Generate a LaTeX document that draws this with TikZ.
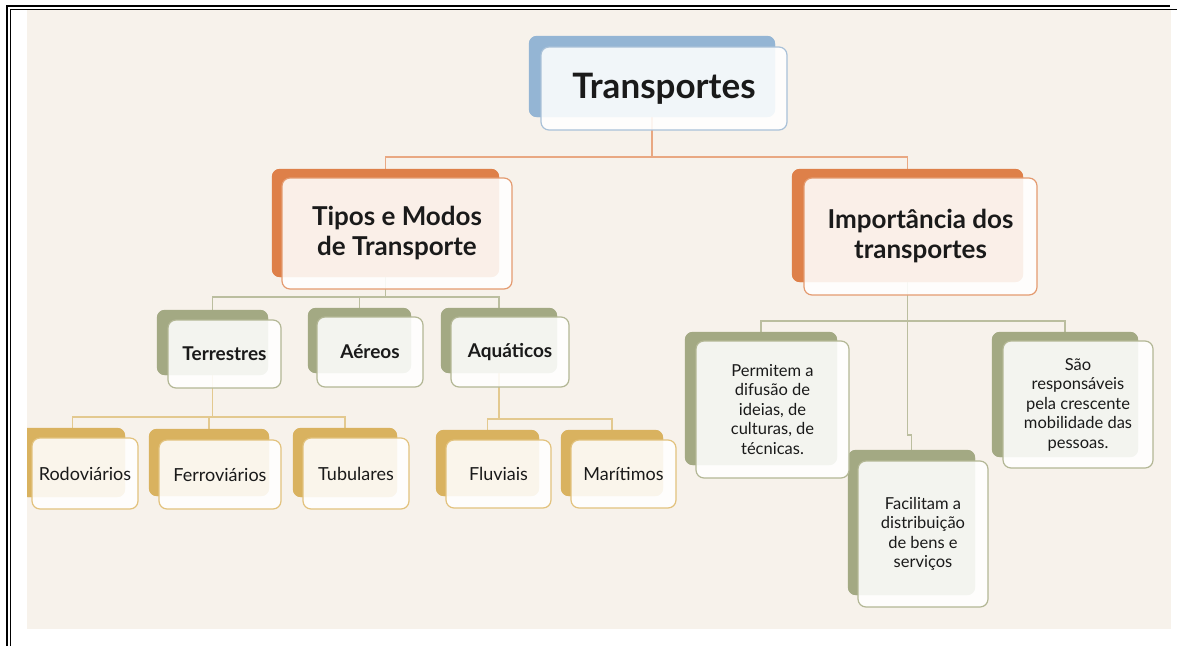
\documentclass[tikz,border=0pt]{standalone}
\usepackage{fontspec}
\setmainfont{Lato}
\definecolor{bgc}{HTML}{F7F2EB}
\definecolor{cB}{HTML}{94B5D4}
\definecolor{cBb}{HTML}{A9C1D8}
\definecolor{cO}{HTML}{DE8049}
\definecolor{cOb}{HTML}{E49B70}
\definecolor{cOl}{HTML}{E9A882}
\definecolor{cV}{HTML}{A3A983}
\definecolor{cVb}{HTML}{B3B795}
\definecolor{cVl}{HTML}{BBBE9F}
\definecolor{cG}{HTML}{D9B25F}
\definecolor{cGb}{HTML}{E2C27D}
\definecolor{cGl}{HTML}{E3C98F}
\definecolor{txt}{HTML}{1A1A1A}
\tikzset{
  backbox/.style={rounded corners=8pt, fill=#1, draw=none, inner sep=0pt},
  frontbox/.style={rounded corners=8pt, fill=white, fill opacity=0.88, text opacity=1,
     draw=#1, line width=1.2pt, inner sep=0pt, align=center, text=txt},
  conn/.style={draw=#1, line width=1.5pt},
  fbig/.style={font=\fontsize{26}{30}\selectfont\bfseries},
  fmid/.style={font=\fontsize{19}{22}\selectfont\bfseries},
  fsmall/.style={font=\fontsize{18}{21}\selectfont},
  fpara/.style={font=\fontsize{16.5}{19.5}\selectfont},
}
\begin{document}
\begin{tikzpicture}[x=1pt,y=-1pt]
\useasboundingbox (0,0) rectangle (1177,646);
\fill[white] (0,0) rectangle (1177,646);
% frame
\draw[black, line width=2pt] (7,646) -- (7,6) -- (1170,6);
\draw[black, line width=1pt] (10.5,646) -- (10.5,9.5) -- (1177,9.5);
\fill[bgc] (27,10) rectangle (1171,629);
\begin{scope}
\clip (27,10) rectangle (1171,629);
% back boxes
\node[backbox=cB, minimum width=246pt, minimum height=81pt] (trb) at (652,76.5) {};
\node[backbox=cO, minimum width=227pt, minimum height=108pt] (tib) at (385.5,223) {};
\node[backbox=cO, minimum width=231pt, minimum height=113pt] (imb) at (907.5,225.5) {};
\node[backbox=cV, minimum width=111pt, minimum height=65pt] (teb) at (212.5,342.5) {};
\node[backbox=cV, minimum width=103pt, minimum height=65pt] (aeb) at (359.5,340.5) {};
\node[backbox=cV, minimum width=116pt, minimum height=65pt] (aqb) at (499,340.5) {};
\node[backbox=cG, minimum width=105pt, minimum height=69pt] (rob) at (72.5,462.5) {};
\node[backbox=cG, minimum width=120pt, minimum height=67pt] (feb) at (209,462.5) {};
\node[backbox=cG, minimum width=104pt, minimum height=69pt] (tub) at (345,462.5) {};
\node[backbox=cG, minimum width=103pt, minimum height=66pt] (flb) at (487.5,463) {};
\node[backbox=cG, minimum width=102pt, minimum height=66pt] (mab) at (612,463) {};
\node[backbox=cV, minimum width=152pt, minimum height=133pt] (peb) at (761,398.5) {};
\node[backbox=cV, minimum width=146pt, minimum height=125pt] (sab) at (1065,394.5) {};
\node[backbox=cV, minimum width=127pt, minimum height=145pt] (fab) at (911.5,522.5) {};
% connectors
\draw[conn=cOl] (trb.south) -- ++(0,40) coordinate (j1);
\draw[conn=cOl] (j1) -| (tib.north);
\draw[conn=cOl] (j1) -| (imb.north);
\draw[conn=cVl] (tib.south) -- ++(0,20) coordinate (j2);
\draw[conn=cVl] (j2) -| (teb.north);
\draw[conn=cVl] (j2) -| (aeb.north);
\draw[conn=cVl] (j2) -| (aqb.north);
\draw[conn=cGl] (teb.south) -- ++(0,42) coordinate (j3);
\draw[conn=cGl] (j3) -| (rob.north);
\draw[conn=cGl] (j3) -| (feb.north);
\draw[conn=cGl] (j3) -| (tub.north);
\draw[conn=cGl] (aqb.south) -- ++(0,46) coordinate (j4);
\draw[conn=cGl] (j4) -| (flb.north);
\draw[conn=cGl] (j4) -| (mab.north);
\draw[conn=cVl] (imb.south) -- ++(0,39) coordinate (j5);
\draw[conn=cVl] (j5) -| (peb.north);
\draw[conn=cVl] (j5) -| (sab.north);
\draw[conn=cVl] (imb.south) -- ++(0,153) -| (fab.north);
% back boxes again, on top of connector ends
\foreach \n/\c in {trb/cB,tib/cO,imb/cO,teb/cV,aeb/cV,aqb/cV,rob/cG,feb/cG,tub/cG,flb/cG,mab/cG,peb/cV,sab/cV,fab/cV}{
  \fill[\c, rounded corners=8pt] (\n.south west) rectangle (\n.north east);
}
% front boxes
\node[frontbox=cBb, minimum width=246pt, minimum height=83pt,
  font=\fontsize{35}{40}\selectfont\bfseries] (tr) at (664,88.5) {Transportes};
\node[frontbox=cOb, fbig, minimum width=230pt, minimum height=111pt] (ti) at (397,233.5) {Tipos e Modos\\de Transporte};
\node[frontbox=cOb, fbig, minimum width=233pt, minimum height=117pt] (im) at (920.5,236.5) {Importância dos\\transportes};
\node[frontbox=cVb, fmid, minimum width=113pt, minimum height=68pt] (te) at (224.5,354) {Terrestres};
\node[frontbox=cVb, fmid, minimum width=106pt, minimum height=70pt] (ae) at (370,352) {Aéreos};
\node[frontbox=cVb, fmid, minimum width=118pt, minimum height=70pt] (aq) at (510,352) {Aquáticos};
\node[frontbox=cGb, fsmall, minimum width=106pt, minimum height=71pt] (ro) at (85,473.5) {Rodoviários};
\node[frontbox=cGb, fsmall, minimum width=122pt, minimum height=69pt] (fe) at (220,474.5) {Ferroviários};
\node[frontbox=cGb, fsmall, minimum width=106pt, minimum height=71pt] (tu) at (356,473.5) {Tubulares};
\node[frontbox=cGb, fsmall, minimum width=105pt, minimum height=68pt] (fl) at (498.5,474) {Fluviais};
\node[frontbox=cGb, fsmall, minimum width=105pt, minimum height=68pt] (ma) at (623.5,474) {Marítimos};
\node[frontbox=cVb, fpara, minimum width=153pt, minimum height=137pt] (pe) at (772.5,409.5) {Permitem a\\difusão de\\ideias, de\\culturas, de\\técnicas.};
\node[frontbox=cVb, fpara, minimum width=150pt, minimum height=127pt] (sa) at (1078,404.5) {São\\responsáveis\\pela crescente\\mobilidade das\\pessoas.};
\node[frontbox=cVb, fpara, minimum width=130pt, minimum height=146pt] (fa) at (923,534) {Facilitam a\\distribuição\\de bens e\\serviços};
\end{scope}
\end{tikzpicture}
\end{document}
